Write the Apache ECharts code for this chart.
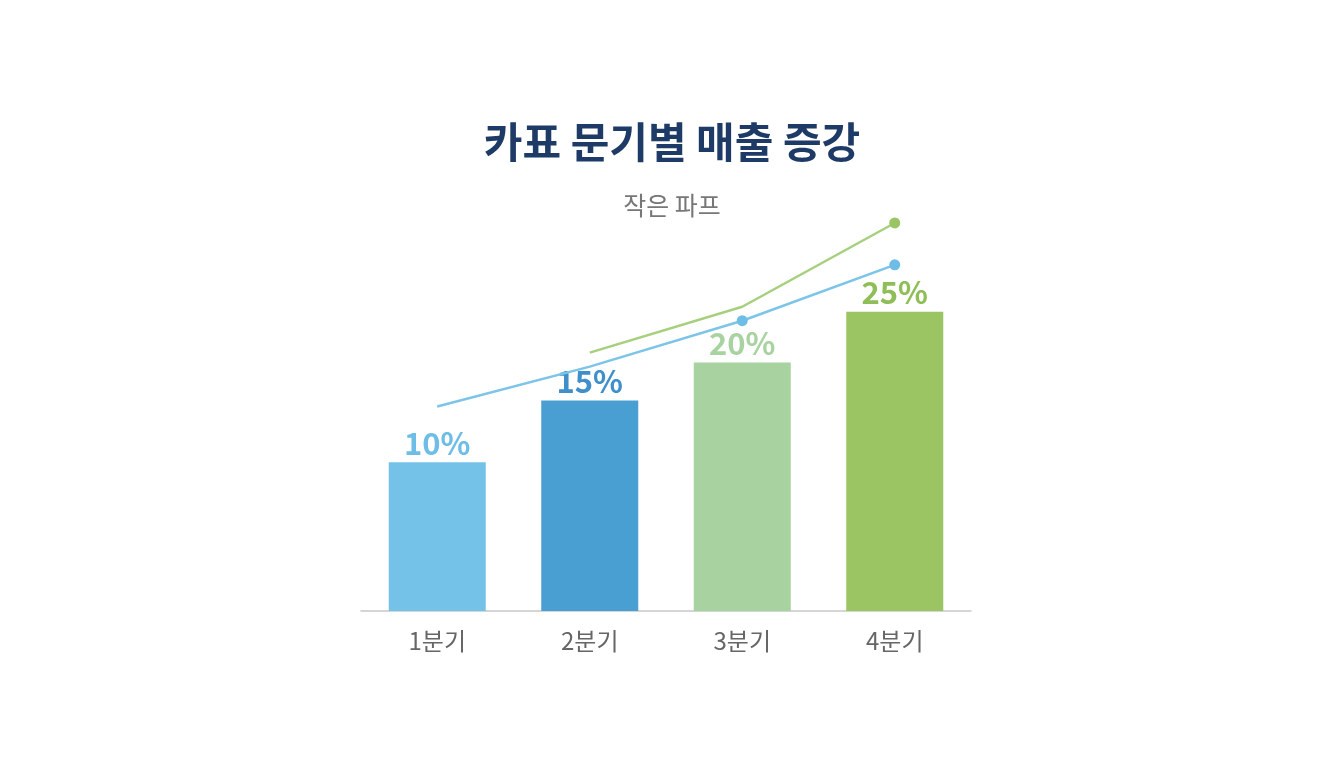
<!DOCTYPE html>
<html><head><meta charset="utf-8">
<script src="https://cdn.jsdelivr.net/npm/echarts@6/dist/echarts.min.js"></script>
<style>html,body{margin:0;background:#fff}#c{width:1344px;height:768px}</style>
</head><body><div id="c"></div>
<script>
const categories = ['1분기','2분기','3분기','4분기'];
const barValues = [14.9, 21.1, 24.9, 30.0];
const barLabels = ['10%','15%','20%','25%'];
const blueLine = [20.5, 24.5, 29.1, 34.7];
const greenLine = [null, 25.9, 30.5, 38.9];
const barColors = ['#74c2e8','#4a9fd2','#a8d3a0','#9bc462'];
const labelColors = ['#6dbde6','#3f8fcb','#a8d3a0','#8fbd57'];
const ff = '"Noto Sans CJK KR", "Noto Sans", sans-serif';
const chart = echarts.init(document.getElementById('c'));
chart.setOption({
  backgroundColor:'#fff',
  title:{text:'카표 문기별 매출 증강', subtext:'작은 파프', left:'center', top:116, itemGap:30,
    textStyle:{fontFamily:ff, fontSize:42, fontWeight:'bold', color:'#1e3a66'},
    subtextStyle:{fontFamily:ff, fontSize:25, color:'#777'}},
  grid:{left:361, right:373, top:212, bottom:157},
  xAxis:{type:'category', data:categories,
    axisLine:{onZero:false, lineStyle:{color:'#c8c8c8', width:1.5}}, axisTick:{show:false},
    axisLabel:{fontFamily:ff, fontSize:24, color:'#666', margin:18}},
  yAxis:{type:'value', min:0, max:40, show:false, splitLine:{show:false}},
  series:[
    {type:'bar', data:barValues.map((v,i)=>({value:v, itemStyle:{color:barColors[i]},
      label:{show:true, position:'top', distance:4, formatter:barLabels[i], color:labelColors[i],
        fontFamily:ff, fontSize:31, fontWeight:'bold'}})), barWidth:97},
    {type:'line', data:blueLine.map((v,i)=>({value:v, symbol:i>=2?'circle':'none', symbolSize:11})),
      lineStyle:{color:'#7cc4e8', width:2.5}, itemStyle:{color:'#6dbde6'}, z:3},
    {type:'line', data:greenLine.map((v,i)=>({value:v, symbol:i==3?'circle':'none', symbolSize:11})),
      lineStyle:{color:'#a6cf7e', width:2.5}, itemStyle:{color:'#9bc462'}, z:3}
  ]
});
</script></body></html>
